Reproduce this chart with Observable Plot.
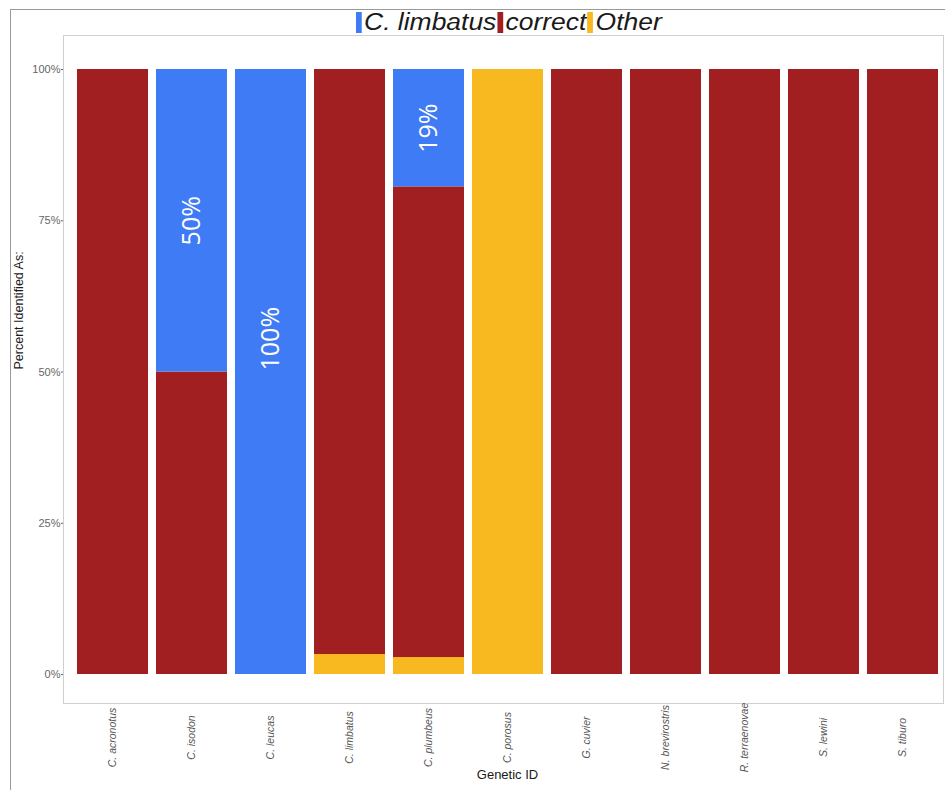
<!DOCTYPE html>
<html>
<head>
<meta charset="utf-8">
<script src="https://cdn.jsdelivr.net/npm/d3@7"></script>
<script src="https://cdn.jsdelivr.net/npm/@observablehq/plot@0.6"></script>
<style>
  body { margin: 0; background: #fff; }
  #wrap { position: relative; width: 945px; height: 791px; overflow: hidden; font-family: "Liberation Sans", Arial, sans-serif; }
  #outer { position: absolute; left: 10px; top: 9px; width: 940px; height: 780px; border-left: 1px solid #9a9a9a; border-top: 1px solid #9a9a9a; pointer-events: none; }
  #legend { position: absolute; left: 356px; top: 9px; display: flex; align-items: center; transform: scaleX(1.15); transform-origin: left center; }
  #legend .sw { width: 5px; height: 21px; margin-right: 2px; }
  #legend .lab { font-style: italic; font-size: 23px; color: #1a1a1a; margin-right: 1px; line-height: 26px; }
  #chart { position: absolute; left: 0; top: 0; }
</style>
</head>
<body>
<div id="wrap">
  <div id="outer"></div>
  <div id="chart"></div>
  <div id="legend"></div>
</div>
<script>
// ---- data ----
const species = ["C. acronotus", "C. isodon", "C. leucas", "C. limbatus", "C. plumbeus", "C. porosus",
                 "G. cuvier", "N. brevirostris", "R. terraenovae", "S. lewini", "S. tiburo"];
const categories = ["C. limbatus", "correct", "Other"];
const categoryColors = ["#3f7bf4", "#a11f21", "#f8b81f"];
const shareLimbatus = [0, 0.50, 1.00, 0, 0.194, 0, 0, 0, 0, 0, 0];
const shareCorrect  = [1, 0.50, 0, 0.967, 0.778, 0, 1, 1, 1, 1, 1];
const shareOther    = [0, 0, 0, 0.033, 0.028, 1, 0, 0, 0, 0, 0];
const labelSpecies = ["C. isodon", "C. leucas", "C. plumbeus"];
const labelText = ["50%", "100%", "19%"];
const labelPos = [0.75, 0.555, 0.903];
const yTicks = [0, 0.25, 0.5, 0.75, 1];

// ---- table ----
const rows = species.flatMap((s, i) => [
  {species: s, cat: "Other", value: shareOther[i]},
  {species: s, cat: "correct", value: shareCorrect[i]},
  {species: s, cat: "C. limbatus", value: shareLimbatus[i]}
]);
const labels = labelSpecies.map((s, i) => ({species: s, pos: labelPos[i], text: labelText[i]}));

const chart = Plot.plot({
  width: 945,
  height: 791,
  marginLeft: 63,
  marginRight: 2,
  marginTop: 35,
  marginBottom: 88,
  style: {fontFamily: "'Liberation Sans', Arial, sans-serif", background: "none"},
  x: {domain: species, range: [64, 950.5], paddingInner: 0.1, paddingOuter: 0.15, label: null},
  y: {domain: [0, 1], range: [674, 69], label: null},
  color: {domain: categories, range: categoryColors},
  marks: [
    Plot.frame({stroke: "#cfcfcf"}),
    Plot.barY(rows, Plot.stackY({x: "species", y: "value", fill: "cat", order: ["Other", "correct", "C. limbatus"]})),
    Plot.text(labels, {x: "species", y: "pos", text: "text", rotate: -90, fill: "white",
      fontSize: 25, fontWeight: 500, fontFamily: "'Open Sans', sans-serif"}),
    Plot.axisY({ticks: yTicks, tickFormat: d3.format(".0%"), tickSize: 2, tickPadding: 1,
      fontSize: 11, color: "#666", label: null}),
    Plot.axisX({tickRotate: -90, tickSize: 0, tickPadding: 34, textAnchor: "middle",
      fontStyle: "italic", fontSize: 10.5, color: "#555", label: null}),
    Plot.text(["Percent Identified As:"], {frameAnchor: "left", dx: -45, rotate: -90, text: d => d,
      fontSize: 12.5, fill: "#1a1a1a"}),
    Plot.text(["Genetic ID"], {frameAnchor: "bottom", dx: 4, dy: 75, text: d => d,
      fontSize: 13, fill: "#1a1a1a"})
  ]
});
document.getElementById("chart").appendChild(chart);

// ---- legend ----
const legend = document.getElementById("legend");
categories.forEach((c, i) => {
  const sw = document.createElement("span");
  sw.className = "sw";
  sw.style.background = categoryColors[i];
  const lab = document.createElement("span");
  lab.className = "lab";
  lab.textContent = c;
  legend.appendChild(sw);
  legend.appendChild(lab);
});
</script>
</body>
</html>
